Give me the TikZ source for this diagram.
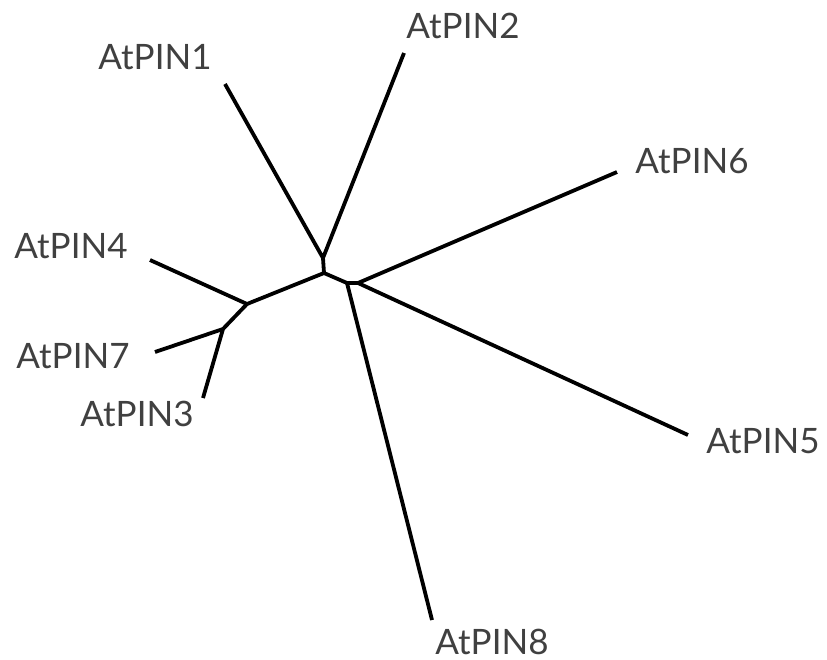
\documentclass[tikz,border=0pt]{standalone}
\usepackage{fontspec}
\setmainfont{Lato}
\tikzset{
  branch/.style={line width=3.8pt, line join=round, line cap=butt, black},
  leaflabel/.style={inner sep=0pt, anchor=base, font=\fontsize{35}{40}\selectfont, text=black!75}
}
\begin{document}
\begin{tikzpicture}[x=1pt,y=-1pt]
\useasboundingbox (0,0) rectangle (827,659);
% internal nodes
\coordinate (A) at (323,258);
\coordinate (B) at (324,273);
\coordinate (C) at (247,304);
\coordinate (D) at (347,283);
\coordinate (F) at (358,283);
\coordinate (E) at (223,329);
% leaf ends
\coordinate (l1) at (225,84);
\coordinate (l2) at (404,53);
\coordinate (l6) at (617,172);
\coordinate (l5) at (688,435);
\coordinate (l8) at (432,620);
\coordinate (l4) at (150,260);
\coordinate (l7) at (155,352);
\coordinate (l3) at (203,398);
% branches
\draw[branch] (l1) -- (A) -- (l2);
\draw[branch] (A) -- (B);
\draw[branch] (B) -- (C);
\draw[branch] (B) -- (D) -- (F);
\draw[branch] (D) -- (l8);
\draw[branch] (F) -- (l6);
\draw[branch] (F) -- (l5);
\draw[branch] (C) -- (l4);
\draw[branch] (C) -- (E);
\draw[branch] (E) -- (l7);
\draw[branch] (E) -- (l3);
% labels
\node[leaflabel] (t1) at (155,69) {AtPIN1};
\node[leaflabel] (t2) at (463,38) {AtPIN2};
\node[leaflabel] (t6) at (692,173) {AtPIN6};
\node[leaflabel] (t4) at (71,258) {AtPIN4};
\node[leaflabel] (t7) at (73,368) {AtPIN7};
\node[leaflabel] (t3) at (137,426) {AtPIN3};
\node[leaflabel] (t5) at (763,453) {AtPIN5};
\node[leaflabel] (t8) at (492,654) {AtPIN8};
\end{tikzpicture}
\end{document}
